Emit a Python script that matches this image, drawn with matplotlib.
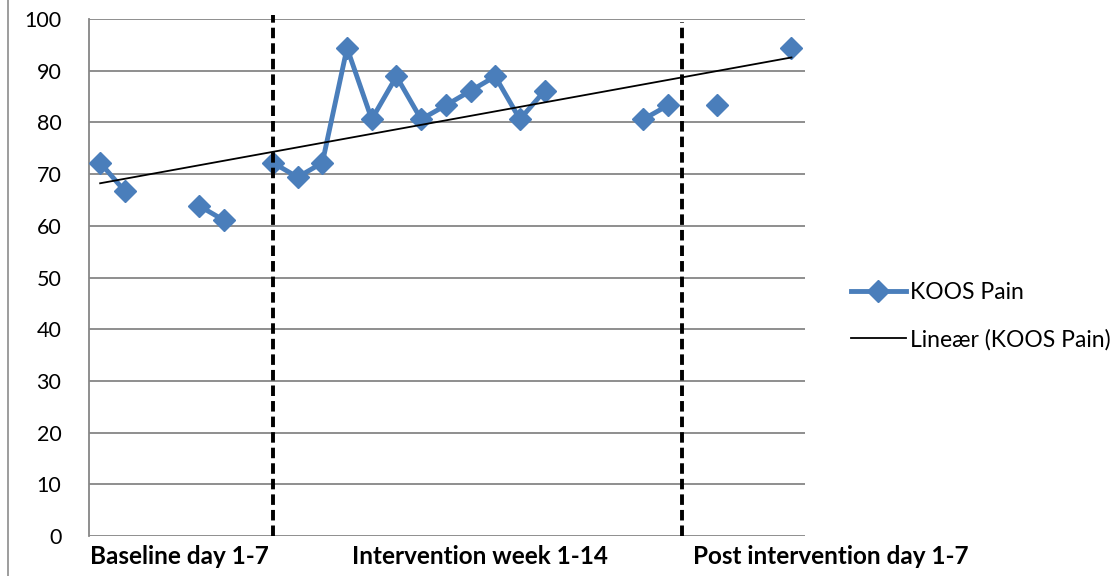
import matplotlib
matplotlib.use("Agg")
import matplotlib.pyplot as plt
import numpy as np

plt.rcParams['font.family'] = ['Lato', 'DejaVu Sans']

# KOOS Pain scores per measurement slot (nan = no measurement)
koos_pain = [72.2, 66.7, np.nan, np.nan, 63.9, 61.1, np.nan,
             72.2, 69.4, 72.2, 94.4, 80.6, 88.9, 80.6, 83.3, 86.1, 88.9, 80.6, 86.1,
             np.nan, np.nan, np.nan, 80.6, 83.3, np.nan,
             83.3, np.nan, np.nan, 94.4]
phase_labels = ['Baseline day 1-7', 'Intervention week 1-14', 'Post intervention day 1-7']
phase_label_pos = [3.2, 15.4, 29.6]
phase_breaks = [7, 23.55]

y = np.array(koos_pain)
x = np.arange(len(y))

fig = plt.figure(figsize=(11.2, 5.76), dpi=100)
ax = fig.add_axes([0.0795, 0.0694, 0.6393, 0.8976])

blue = '#4A7EBB'
grid = '#868686'

# gridlines
for v in range(0, 101, 10):
    ax.axhline(v, color=grid, lw=1.3, zorder=1)

ax.plot(x, y, color=blue, lw=3.5, marker='D', markersize=11.5,
        label='KOOS Pain', zorder=4, clip_on=False)

# linear trendline (Excel style, fit on available points)
ok = ~np.isnan(y)
p = np.polyfit(x[ok], y[ok], 1)
ax.plot([x[0], x[-1]], np.polyval(p, [x[0], x[-1]]), color='black', lw=1.3,
        label='Lineær (KOOS Pain)', zorder=5)

# phase separators
ax.plot([phase_breaks[0]] * 2, [0, 100.8], color='black', lw=2.8,
        dashes=(2.7, 1.3), zorder=6, clip_on=False)
ax.plot([phase_breaks[1]] * 2, [0, 99.4], color='black', lw=2.8,
        dashes=(2.7, 1.3), zorder=6, clip_on=False)

ax.set_xlim(-0.45, 28.55)
ax.set_ylim(0, 100)
ax.set_yticks(range(0, 101, 10))
ax.set_xticks([])
ax.tick_params(axis='y', length=0, pad=20, labelsize=15.5)
for s in ['top', 'right', 'bottom']:
    ax.spines[s].set_visible(False)
ax.spines['left'].set_color(grid)
ax.spines['left'].set_linewidth(1.3)

for lab, pos in zip(phase_labels, phase_label_pos):
    ax.text(pos, -0.04, lab, transform=ax.get_xaxis_transform(), ha='center',
            va='center', fontsize=17.5, fontweight='bold', clip_on=False)

leg = ax.legend(loc='center left', bbox_to_anchor=(1.035, 0.425), frameon=False,
                fontsize=16.5, handlelength=2.4, labelspacing=1.1, handletextpad=0.2)

# chart area border on the left
fig.add_artist(plt.Line2D([0.0075, 0.0075], [0, 1], color='#8c8c8c', lw=1.2,
                          transform=fig.transFigure))

fig.savefig('out.png', dpi=100)
